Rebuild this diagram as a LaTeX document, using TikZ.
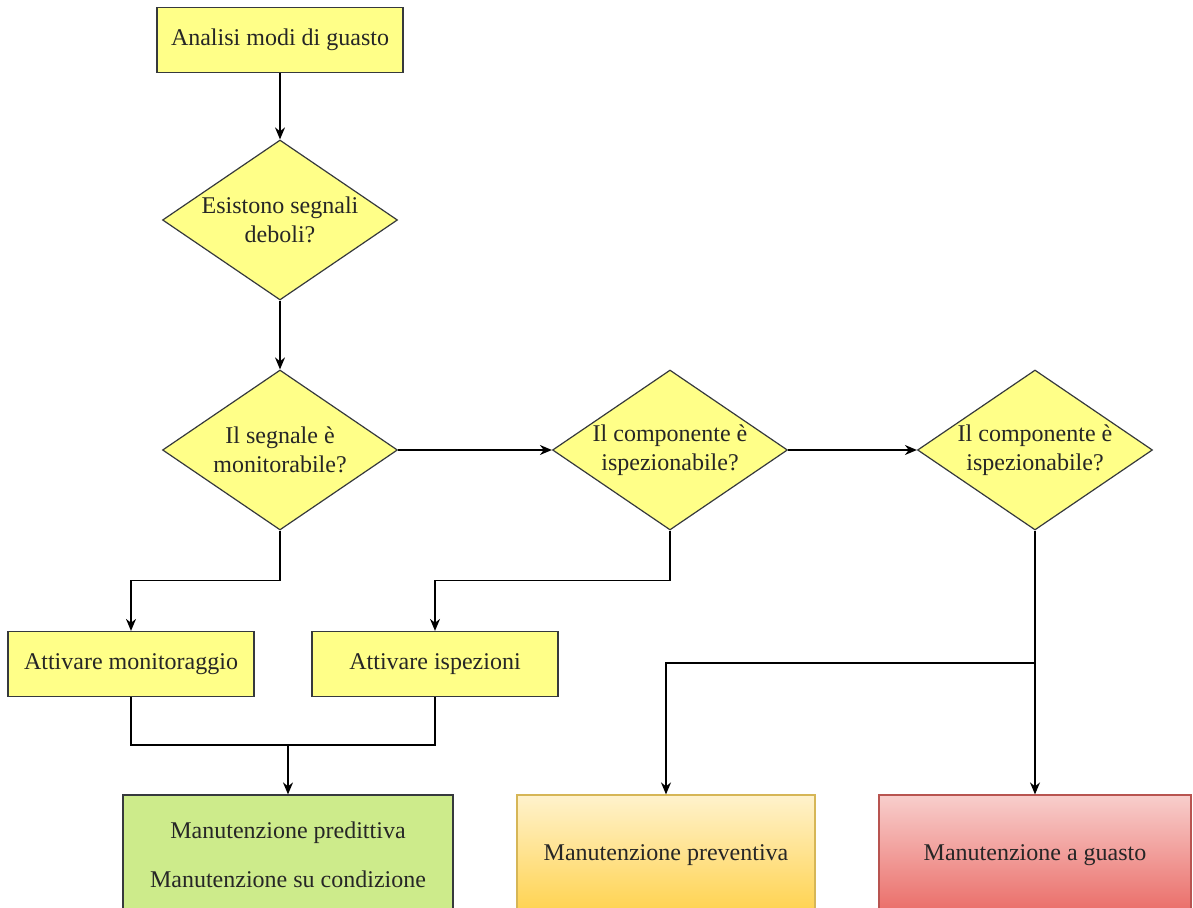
\documentclass[tikz,border=0pt]{standalone}
\usepackage{fontspec}
\setmainfont{Liberation Serif}
\usepackage{xcolor}
\usetikzlibrary{arrows.meta,shapes.geometric}

\definecolor{boxline}{HTML}{36393D}
\definecolor{boxyellow}{HTML}{FFFF88}
\definecolor{predgreen}{HTML}{CDEB8B}
\definecolor{prevtop}{HTML}{FFF2CC}
\definecolor{prevbottom}{HTML}{FFD24D}
\definecolor{prevline}{HTML}{D6B656}
\definecolor{guastotop}{HTML}{F8CECC}
\definecolor{guastobottom}{HTML}{EA6B66}
\definecolor{guastoline}{HTML}{B85450}

\begin{document}
\begin{tikzpicture}[
  x=0.5pt, y=-0.5pt,
  every node/.style={font=\fontsize{12}{14.5}\selectfont, align=center, text=black!85},
  stepbox/.style={draw=boxline, fill=boxyellow, line width=0.6pt, minimum width=123pt, minimum height=32.5pt, inner sep=0pt},
  query/.style={diamond, aspect=1.47, draw=boxline, fill=boxyellow, line width=0.6pt, minimum width=117.5pt, minimum height=80pt, inner sep=0pt},
  outcome/.style={line width=0.6pt, minimum height=60pt, inner sep=0pt},
  arrow/.style={-{Stealth[length=6pt, width=5pt]}, line width=0.7pt},
  link/.style={line width=0.7pt}
]
\useasboundingbox (0,0) rectangle (1193,908);
\clip (0,0) rectangle (1193,908);

\node (analisi) [stepbox] at (280,40) {Analisi modi di guasto};
\node (segnali) [query] at (280,220) {Esistono segnali\\deboli?};
\node (monitor) [query] at (280,450) {Il segnale è\\monitorabile?};
\node (ispez1) [query] at (670,450) {Il componente è\\ispezionabile?};
\node (ispez2) [query] at (1035,450) {Il componente è\\ispezionabile?};
\node (attmon) [stepbox] at (131,664) {Attivare monitoraggio};
\node (attisp) [stepbox] at (435,664) {Attivare ispezioni};
\node (pred) [outcome, draw=boxline, fill=predgreen, minimum width=165pt] at (288,855)
  {Manutenzione predittiva\\[10pt]Manutenzione su condizione};
\node (prev) [outcome, draw=prevline, top color=prevtop, bottom color=prevbottom, minimum width=149pt] at (666,855)
  {Manutenzione preventiva};
\node (guasto) [outcome, draw=guastoline, top color=guastotop, bottom color=guastobottom, minimum width=156pt] at (1035,855)
  {Manutenzione a guasto};

\coordinate (merge) at (pred.north |- 0,745);
\coordinate (split) at (ispez2.south |- 0,663);

\draw[arrow] (analisi) -- (segnali);
\draw[arrow] (segnali) -- (monitor);
\draw[arrow] (monitor.east) -- (ispez1.west);
\draw[arrow] (ispez1.east) -- (ispez2.west);
\draw[arrow] (monitor.south) -- ++(0,50) -| (attmon.north);
\draw[arrow] (ispez1.south) -- ++(0,50) -| (attisp.north);
\draw[link] (attmon.south) -- ++(0,48) -| (attisp.south);
\draw[arrow] (merge) -- (pred.north);
\draw[arrow] (ispez2.south) -- (guasto.north);
\draw[arrow] (split) -| (prev.north);
\end{tikzpicture}
\end{document}
